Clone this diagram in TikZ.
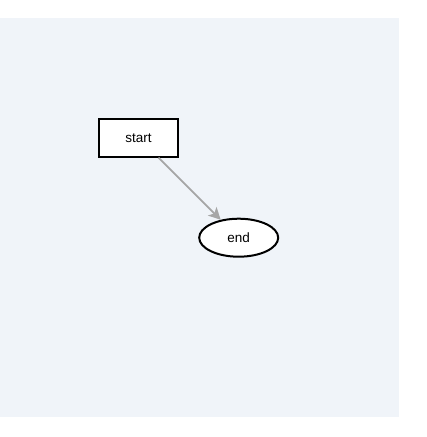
\documentclass[tikz,border=0pt]{standalone}
\usepackage{fontspec}
\setmainfont{Liberation Sans}
\usetikzlibrary{shapes.geometric,arrows.meta}
\definecolor{bgblue}{HTML}{F0F4F9}
\definecolor{edgegray}{HTML}{A6A6A6}
\begin{document}
\begin{tikzpicture}[x=1pt,y=-1pt,
  boxnode/.style={draw=black,line width=2pt,fill=white,minimum width=79pt,minimum height=38pt,inner sep=0pt,font=\fontsize{13.5}{16}\selectfont},
  ellnode/.style={ellipse,draw=black,line width=2pt,fill=white,minimum width=79pt,minimum height=38pt,inner sep=0pt,font=\fontsize{13.5}{16}\selectfont},
  edge/.style={draw=edgegray,line width=1.8pt,-{Stealth[length=12pt,width=12pt,inset=3pt]}}]
\useasboundingbox (0,0) rectangle (427,437);
\fill[white] (0,0) rectangle (427,437);
\fill[bgblue] (0,18) rectangle (399,417);
\node[boxnode] (start) at (138.5,137.7) {start};
\node[ellnode] (end) at (238.7,237.7) {end};
\draw[edge] (start) -- (end);
\end{tikzpicture}
\end{document}
